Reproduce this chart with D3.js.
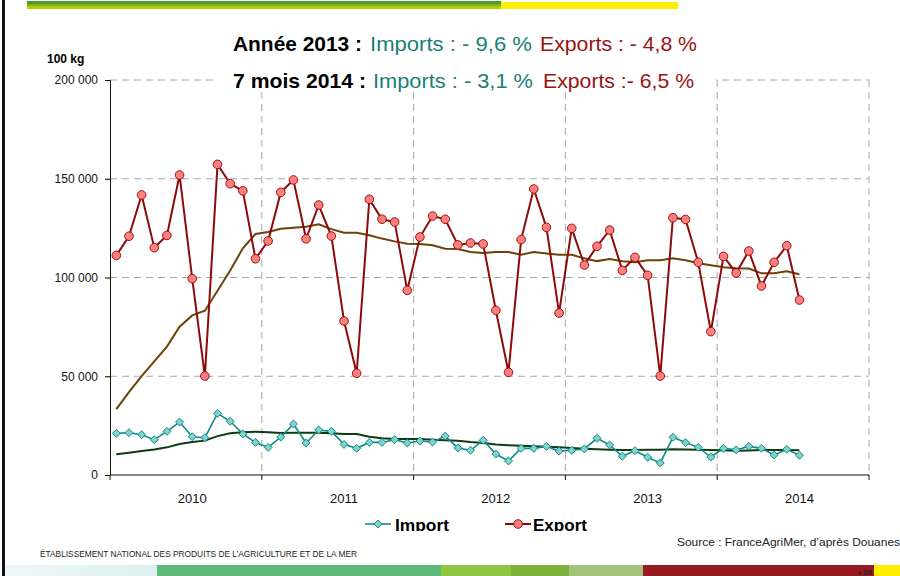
<!DOCTYPE html>
<html>
<head>
<meta charset="utf-8">
<script src="https://cdn.jsdelivr.net/npm/d3@7"></script>
<style>
    body { margin: 0; background: #fff; }
    svg { display: block; font-family: "Liberation Sans", Arial, sans-serif; }
</style>
</head>
<body>
<div id="chart-area"></div>
<script>

// Monthly data, Jan 2010 -> Jul 2014 (unit: 100 kg)
const years = ["2010", "2011", "2012", "2013", "2014"];
const yTicks = [0, 50000, 100000, 150000, 200000];

const exportValues = [
    111200, 120900, 141800, 115100, 121300, 151900, 99400, 50100, 157300, 147500, 143900, 109500,
    118500, 143100, 149400, 119600, 136700, 121000, 78000, 51500, 139600, 129500, 128100, 93500,
    120500, 131100, 129500, 116500, 117500, 117000, 83400, 52000, 119200, 144800, 125400, 82000,
    124900, 106300, 115800, 124000, 103600, 110200, 101100, 50100, 130300, 129400, 107700, 72600,
    110700, 102300, 113400, 95700, 107700, 116100, 88600
];

const importValues = [
    21100, 21400, 20400, 17900, 22100, 26800, 19400, 18900, 31200, 27200, 20800, 16500,
    14000, 19200, 25800, 16200, 22800, 22100, 15500, 13500, 16500, 16500, 17900, 16200,
    17200, 16700, 19700, 13700, 12500, 17600, 10600, 7100, 13500, 13500, 14500, 12100,
    12500, 13200, 18600, 15200, 9500, 12300, 9000, 6100, 19100, 16400, 14000, 9100,
    13500, 12700, 14500, 13500, 10100, 13000, 10000
];

// trend curves (rolling average)
const exportTrend = [
    33400, 42000, 50100, 57500, 65000, 75100, 80800, 83200, 93300, 103500, 114800, 122000,
    123000, 124700, 125200, 125700, 126900, 124500, 122700, 122700, 121400, 119700, 118300, 117100,
    117000, 116300, 114600, 114400, 112900, 112400, 112900, 112900, 111500, 112900, 112200, 111500,
    111500, 109700, 108300, 109400, 108200, 107700, 108700, 108700, 109700, 108700, 107200, 106200,
    105200, 104700, 104500, 102100, 102100, 103100, 101600
];

const importTrend = [
    10500, 11300, 12100, 12900, 14000, 15700, 16700, 17400, 19700, 21100, 21600, 21900,
    21600, 21300, 21400, 21400, 21400, 21100, 20800, 20800, 19400, 18600, 18200, 18200,
    18200, 17900, 17600, 17400, 16700, 16200, 15500, 15100, 14800, 14500, 14300, 14000,
    13700, 13300, 13000, 12800, 12700, 12700, 12800, 12800, 13000, 12900, 12800, 12700,
    12500, 12300, 12400, 12600, 12700, 12600, 12500
];

const titleLines = [
    { head: "Année 2013 :", imp: "Imports : - 9,6 %", exp: "Exports : - 4,8 %" },
    { head: "7 mois 2014 :", imp: "Imports : - 3,1 %", exp: "Exports :- 6,5 %" }
];

// bottom banner colour blocks
const bannerBlocks = [
    { x0: 157, x1: 441, c: "#5dbb79" },
    { x0: 441, x1: 511, c: "#8fc53f" },
    { x0: 511, x1: 569, c: "#7db33a" },
    { x0: 569, x1: 643, c: "#a3c27b" },
    { x0: 643, x1: 874, c: "#961b20" },
    { x0: 874, x1: 900, c: "#ffee00" }
];

const svg = d3.select("#chart-area").append("svg")
    .attr("width", 900)
    .attr("height", 576);

// slide decoration: left border, top bars, bottom banner
svg.append("rect").attr("x", 2).attr("y", 0).attr("width", 3).attr("height", 576).attr("fill", "#111");

svg.append("rect").attr("x", 27).attr("y", 1).attr("width", 474).attr("height", 3).attr("fill", "#4e9a2c");
svg.append("rect").attr("x", 27).attr("y", 4).attr("width", 474).attr("height", 2).attr("fill", "#7db51e");
svg.append("rect").attr("x", 27).attr("y", 6).attr("width", 474).attr("height", 3).attr("fill", "#b3cc00");
svg.append("rect").attr("x", 501).attr("y", 2).attr("width", 177).attr("height", 7).attr("fill", "#ffee00");

const grad = svg.append("defs").append("linearGradient").attr("id", "fade");
grad.append("stop").attr("offset", "0%").attr("stop-color", "#eef7f8");
grad.append("stop").attr("offset", "100%").attr("stop-color", "#dcefef");
svg.append("rect").attr("x", 5).attr("y", 565).attr("width", 152).attr("height", 11).attr("fill", "url(#fade)");

svg.selectAll(".banner")
    .data(bannerBlocks)
    .join("rect")
    .attr("class", "banner")
    .attr("x", d => d.x0)
    .attr("y", 565)
    .attr("width", d => d.x1 - d.x0)
    .attr("height", 11)
    .attr("fill", d => d.c);

svg.append("text")
    .attr("x", 858).attr("y", 575)
    .style("font-size", "8px").style("font-weight", "bold").attr("fill", "#222")
    .text("• 20");

svg.append("text")
    .attr("x", 40).attr("y", 557)
    .attr("textLength", 317).attr("lengthAdjust", "spacingAndGlyphs")
    .style("font-size", "8.5px").attr("fill", "#222")
    .text("ÉTABLISSEMENT NATIONAL DES PRODUITS DE L’AGRICULTURE ET DE LA MER");

svg.append("text")
    .attr("x", 677).attr("y", 546)
    .attr("textLength", 223).attr("lengthAdjust", "spacingAndGlyphs")
    .style("font-size", "11px").attr("fill", "#222")
    .text("Source : FranceAgriMer, d’après Douanes");

// chart area
const plot = { left: 110, right: 869, top: 80, bottom: 475 };

const x = d3.scaleBand()
    .domain(d3.range(exportValues.length + 5))   // 60 monthly slots, last 5 empty
    .range([plot.left, plot.right]);

const xc = i => x(i) + x.bandwidth() / 2;

const y = d3.scaleLinear()
    .domain([0, 200000])
    .range([plot.bottom, plot.top]);

// horizontal grid
svg.selectAll(".hgrid")
    .data(yTicks.slice(1))
    .join("line")
    .attr("class", "hgrid")
    .attr("x1", plot.left).attr("x2", plot.right)
    .attr("y1", d => y(d)).attr("y2", d => y(d))
    .attr("stroke", "#a8a8a8")
    .attr("stroke-dasharray", "7,5");

// vertical grid at year boundaries
svg.selectAll(".vgrid")
    .data(years.map((d, i) => (i + 1) * 12))
    .join("line")
    .attr("class", "vgrid")
    .attr("x1", d => x(d - 1) + x.bandwidth()).attr("x2", d => x(d - 1) + x.bandwidth())
    .attr("y1", plot.top).attr("y2", plot.bottom)
    .attr("stroke", "#a8a8a8")
    .attr("stroke-dasharray", "7,5");

// y axis
const yAxis = d3.axisLeft(y)
    .tickValues(yTicks)
    .tickSize(5)
    .tickPadding(7)
    .tickFormat(d => d3.format(",")(d).replace(/,/g, " "));

svg.append("g")
    .attr("class", "y-axis")
    .attr("transform", "translate(" + plot.left + ",0)")
    .call(yAxis)
    .call(g => g.selectAll("text").style("font-size", "12px").attr("fill", "#111"))
    .call(g => g.select(".domain").attr("stroke", "#111"));

// x axis: ticks between years, labels under month 7
svg.append("line")
    .attr("x1", plot.left).attr("x2", plot.right)
    .attr("y1", plot.bottom).attr("y2", plot.bottom)
    .attr("stroke", "#111");

svg.selectAll(".xtick")
    .data([0].concat(years.map((d, i) => (i + 1) * 12)))
    .join("line")
    .attr("class", "xtick")
    .attr("x1", d => d === 0 ? plot.left : x(d - 1) + x.bandwidth())
    .attr("x2", d => d === 0 ? plot.left : x(d - 1) + x.bandwidth())
    .attr("y1", plot.bottom).attr("y2", plot.bottom + 5)
    .attr("stroke", "#111");

svg.selectAll(".xlabel")
    .data(years)
    .join("text")
    .attr("class", "xlabel")
    .attr("x", (d, i) => xc(i * 12 + 6))
    .attr("y", 503)
    .attr("text-anchor", "middle")
    .style("font-size", "13px")
    .attr("fill", "#111")
    .text(d => d);

svg.append("text")
    .attr("x", 47).attr("y", 63)
    .style("font-size", "12px").style("font-weight", "bold")
    .text("100 kg");

// lines
const line = d3.line().x((d, i) => xc(i)).y(d => y(d));

svg.append("path").datum(exportTrend)
    .attr("d", line).attr("fill", "none")
    .attr("stroke", "#6e4108").attr("stroke-width", 2);

svg.append("path").datum(importTrend)
    .attr("d", line).attr("fill", "none")
    .attr("stroke", "#0d3b12").attr("stroke-width", 2);

svg.append("path").datum(importValues)
    .attr("d", line).attr("fill", "none")
    .attr("stroke", "#0f8c88").attr("stroke-width", 1.6);

svg.append("path").datum(exportValues)
    .attr("d", line).attr("fill", "none")
    .attr("stroke", "#8e0a0a").attr("stroke-width", 2);

const diamond = d3.symbol().type(d3.symbolDiamond2).size(40);

svg.selectAll(".importPt")
    .data(importValues)
    .join("path")
    .attr("class", "importPt")
    .attr("d", diamond)
    .attr("transform", (d, i) => "translate(" + xc(i) + "," + y(d) + ")")
    .attr("fill", "#7fd3cc")
    .attr("stroke", "#138a86")
    .attr("stroke-width", 1);

svg.selectAll(".exportPt")
    .data(exportValues)
    .join("circle")
    .attr("class", "exportPt")
    .attr("cx", (d, i) => xc(i))
    .attr("cy", d => y(d))
    .attr("r", 4.3)
    .attr("fill", "#ff7f7f")
    .attr("stroke", "#9b1010")
    .attr("stroke-width", 1);

// title on a white box covering the top grid line
svg.append("rect")
    .attr("x", 218).attr("y", 22)
    .attr("width", 498).attr("height", 66)
    .attr("fill", "#fff");

const titleRows = [
    { baseline: 51, pos: [[233, 129], [370, 162], [540, 157]] },
    { baseline: 88, pos: [[233, 133], [373, 160], [543, 151]] }
];

titleLines.forEach((t, k) => {
    const r = titleRows[k];
    const parts = [
        { s: t.head, c: "#000", w: "bold" },
        { s: t.imp, c: "#1a7f76", w: "normal" },
        { s: t.exp, c: "#9a1212", w: "normal" }
    ];
    parts.forEach((p, j) => {
        svg.append("text")
            .attr("x", r.pos[j][0]).attr("y", r.baseline)
            .attr("textLength", r.pos[j][1]).attr("lengthAdjust", "spacingAndGlyphs")
            .style("font-size", "21px").style("font-weight", p.w)
            .attr("fill", p.c)
            .text(p.s);
    });
});

// legend (bottom is cut off in the original slide)
svg.append("clipPath").attr("id", "legend-clip")
    .append("rect").attr("x", 300).attr("y", 500).attr("width", 400).attr("height", 31);

const legend = svg.append("g").attr("clip-path", "url(#legend-clip)");

legend.append("line").attr("x1", 365).attr("x2", 391).attr("y1", 524).attr("y2", 524)
    .attr("stroke", "#0f8c88").attr("stroke-width", 1.6);
legend.append("path").attr("d", diamond)
    .attr("transform", "translate(378,524)")
    .attr("fill", "#7fd3cc").attr("stroke", "#138a86");
legend.append("text").attr("x", 395).attr("y", 531)
    .attr("textLength", 54).attr("lengthAdjust", "spacingAndGlyphs")
    .style("font-size", "17px").style("font-weight", "bold")
    .text("Import");

legend.append("line").attr("x1", 505).attr("x2", 531).attr("y1", 524).attr("y2", 524)
    .attr("stroke", "#8e0a0a").attr("stroke-width", 2);
legend.append("circle").attr("cx", 518).attr("cy", 524).attr("r", 4.3)
    .attr("fill", "#ff7f7f").attr("stroke", "#9b1010");
legend.append("text").attr("x", 533).attr("y", 531)
    .attr("textLength", 54).attr("lengthAdjust", "spacingAndGlyphs")
    .style("font-size", "17px").style("font-weight", "bold")
    .text("Export");

</script>
</body>
</html>
